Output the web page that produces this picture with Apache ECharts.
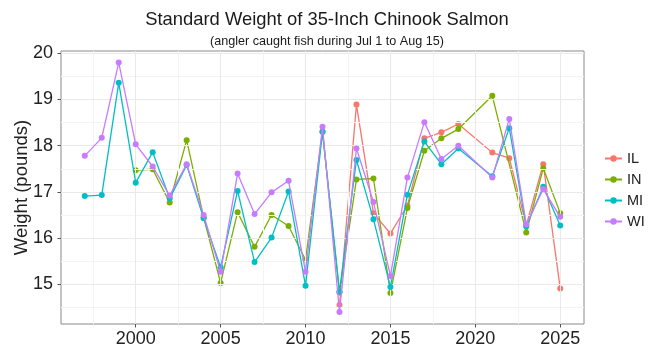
<!DOCTYPE html>
<html>
<head>
<meta charset="utf-8">
<script src="https://cdn.jsdelivr.net/npm/echarts@6/dist/echarts.min.js"></script>
<style>
  html, body { margin: 0; padding: 0; background: #fff; }
  #chart { width: 654px; height: 348px; }
</style>
</head>
<body>
<div id="chart"></div>
<script>
// Survey years (no 2020 season)
const years = [1997, 1998, 1999, 2000, 2001, 2002, 2003, 2004, 2005, 2006, 2007, 2008,
  2009, 2010, 2011, 2012, 2013, 2014, 2015, 2016, 2017, 2018, 2019, 2021, 2022, 2023, 2024, 2025];

// Standard weight (lb) of a 35-inch Chinook salmon, by state
const IL = [null, null, null, null, null, null, null, null, null, null, null, null,
  null, null, null, 14.55, 18.89, 16.54, 16.10, 16.70, 18.16, 18.29, 18.47, 17.85, 17.73, 16.28, 17.60, 14.91];
const IN = [null, null, null, 17.47, 17.49, 16.77, 18.12, 16.45, 15.03, 16.56, 15.81, 16.50,
  16.26, 15.53, 18.30, 14.82, 17.27, 17.29, 14.81, 16.65, 17.89, 18.16, 18.36, 19.08, null, 16.12, 17.51, 16.54];
const MI = [16.91, 16.93, 19.36, 17.20, 17.86, 16.86, 17.58, 16.43, 15.37, 17.02, 15.48, 16.01,
  17.01, 14.97, 18.30, 14.84, 17.69, 16.41, 14.94, 16.94, 18.09, 17.60, 17.94, 17.34, 18.38, 16.25, 17.11, 16.27];
const WI = [17.78, 18.17, 19.80, 18.03, 17.55, 16.92, 17.60, 16.50, 15.27, 17.40, 16.52, 16.99,
  17.24, 15.27, 18.41, 14.40, 17.94, 16.78, 15.18, 17.31, 18.51, 17.71, 18.00, 17.31, 18.58, 16.30, 17.06, 16.46];

const stateNames = ['IL', 'IN', 'MI', 'WI'];
const stateValues = [IL, IN, MI, WI];
const stateColors = ['#F8766D', '#7CAE00', '#00BFC4', '#C77CFF'];

// Axis ticks and grid lines
const xTicks = [2000, 2005, 2010, 2015, 2020, 2025];
const xMinor = [1997.5, 2002.5, 2007.5, 2012.5, 2017.5, 2022.5];
const yTicks = [15, 16, 17, 18, 19, 20];
const yMinor = [14.5, 15.5, 16.5, 17.5, 18.5, 19.5];

const FONT = '"Liberation Sans", Arial, sans-serif';
const MAJOR = '#e9e9e9';
const MINOR = '#f4f4f4';

const gridLines = []
  .concat(xMinor.map(v => ({ xAxis: v, lineStyle: { color: MINOR, width: 1, type: 'solid' } })))
  .concat(yMinor.map(v => ({ yAxis: v, lineStyle: { color: MINOR, width: 1, type: 'solid' } })))
  .concat(xTicks.map(v => ({ xAxis: v, lineStyle: { color: MAJOR, width: 1, type: 'solid' } })))
  .concat(yTicks.map(v => ({ yAxis: v, lineStyle: { color: MAJOR, width: 1, type: 'solid' } })));

const series = [{
  name: '_grid',
  type: 'line',
  data: [],
  silent: true,
  z: 0,
  markLine: {
    silent: true,
    symbol: ['none', 'none'],
    label: { show: false },
    animation: false,
    data: gridLines
  }
}].concat(stateNames.map((name, i) => ({
  name: name,
  type: 'line',
  data: years.map((y, k) => [y, stateValues[i][k]]),
  connectNulls: true,
  symbol: 'circle',
  symbolSize: 6,
  showSymbol: true,
  color: stateColors[i],
  lineStyle: { width: 1.3, color: stateColors[i] },
  itemStyle: { color: stateColors[i] },
  emphasis: { disabled: true },
  z: 3 + i
})));

const chart = echarts.init(document.getElementById('chart'), null, { renderer: 'canvas' });
chart.setOption({
  animation: false,
  backgroundColor: '#ffffff',
  textStyle: { fontFamily: FONT },
  title: [{
    text: 'Standard Weight of 35-Inch Chinook Salmon',
    left: 322, top: 6, textAlign: 'center',
    textStyle: { fontFamily: FONT, fontSize: 18.4, fontWeight: 'normal', color: '#1a1a1a' }
  }, {
    text: '(angler caught fish during Jul 1 to Aug 15)',
    left: 322, top: 30, textAlign: 'center',
    textStyle: { fontFamily: FONT, fontSize: 12.6, fontWeight: 'normal', color: '#1a1a1a' }
  }],
  legend: {
    data: stateNames,
    orient: 'vertical',
    left: 599, top: 146,
    itemWidth: 17, itemHeight: 8,
    itemGap: 6,
    textStyle: { fontFamily: FONT, fontSize: 14.5, color: '#222', lineHeight: 14 },
    selectedMode: false
  },
  grid: {
    left: 61, right: 70, top: 51, bottom: 24,
    containLabel: false,
    outerBoundsMode: 'none',
    show: true, borderColor: '#8a8a8a', borderWidth: 1, backgroundColor: '#fff'
  },
  xAxis: {
    type: 'value',
    min: 1995.6, max: 2026.4,
    axisLine: { show: false },
    splitLine: { show: false },
    axisTick: { show: true, length: 3.5, customValues: xTicks, lineStyle: { color: '#555' } },
    axisLabel: { customValues: xTicks, margin: 6, fontFamily: FONT, fontSize: 18, color: '#222',
      formatter: v => String(v) }
  },
  yAxis: {
    type: 'value',
    min: 14.14, max: 20.05,
    name: 'Weight (pounds)',
    nameLocation: 'middle',
    nameRotate: 90,
    nameGap: 30,
    nameMoveOverlap: false,
    nameTextStyle: { fontFamily: FONT, fontSize: 18.5, color: '#222' },
    axisLine: { show: false },
    splitLine: { show: false },
    axisTick: { show: true, length: 3.5, customValues: yTicks, lineStyle: { color: '#555' } },
    axisLabel: { customValues: yTicks, margin: 8, fontFamily: FONT, fontSize: 18, color: '#222',
      formatter: v => String(v) }
  },
  series: series
});
</script>
</body>
</html>
